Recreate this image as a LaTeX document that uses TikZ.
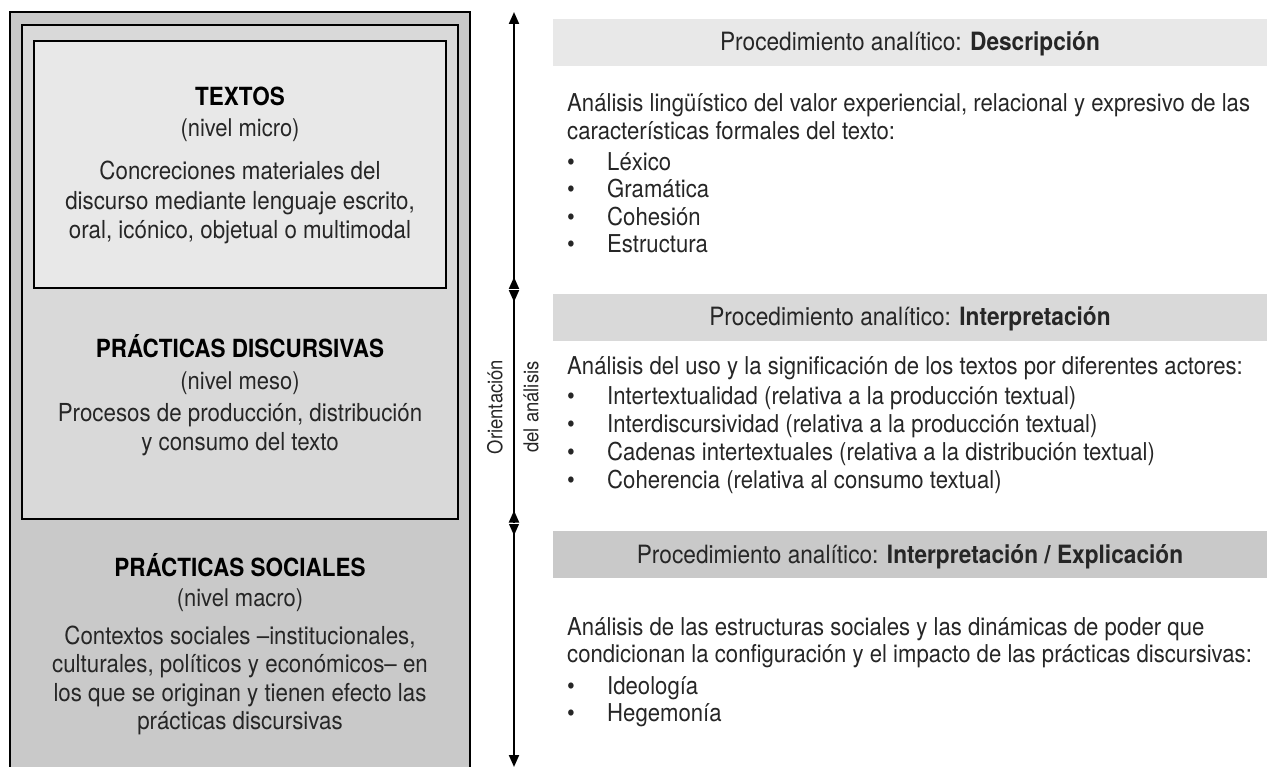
\documentclass[tikz,border=0pt]{standalone}
\usepackage{fontspec}
\setmainfont{TeX Gyre Heros}
\newfontfamily\condf[FakeStretch=0.9]{TeX Gyre Heros}
\usetikzlibrary{arrows.meta}
\definecolor{gA}{HTML}{E8E8E8}
\definecolor{gB}{HTML}{D9D9D9}
\definecolor{gC}{HTML}{C9C9C9}
\definecolor{txt}{HTML}{262626}
\tikzset{
  boxline/.style={draw=black, line width=1.5pt},
  lhead/.style={font=\condf\fontsize{25}{28}\selectfont\bfseries, anchor=base, text=black, inner sep=0pt},
  lsub/.style={font=\condf\fontsize{24.4}{28}\selectfont, anchor=base, text=txt, inner sep=0pt},
  lbody/.style={font=\condf\fontsize{24.8}{28}\selectfont, anchor=base, text=txt, inner sep=0pt},
  rtext/.style={font=\condf\fontsize{24.6}{28}\selectfont, anchor=base west, text=txt, inner sep=0pt},
  bul/.style={font=\condf\fontsize{24.6}{28}\selectfont, anchor=base west, text=txt, inner sep=0pt},
  bhead/.style={font=\condf\fontsize{25.2}{28}\selectfont, anchor=base, text=txt, inner sep=0pt},
  vlab/.style={font=\condf\fontsize{20.5}{24}\selectfont, rotate=90, text=txt, inner sep=0pt},
  axis/.style={line width=2pt, draw=black},
  tip/.style={-{Triangle[length=12pt,width=10pt]}, line width=2pt}
}
\begin{document}
\begin{tikzpicture}[x=1pt,y=-1pt]
\useasboundingbox (0,0) rectangle (1267,767);
\clip (0,0) rectangle (1267,767);
% left nested boxes
\path[boxline, fill=gC] (10,12) rectangle (470,790);
\path[boxline, fill=gB] (22,25) rectangle (458,519);
\path[boxline, fill=gA] (34,41) rectangle (446,288);
% TEXTOS
\node[lhead] (t1) at (240,106) {TEXTOS};
\node[lsub] (t2) at (240,137) {(nivel micro)};
\node[lbody] (t3) at (240,180) {Concreciones materiales del};
\node[lbody] (t4) at (240,209.5) {discurso mediante lenguaje escrito,};
\node[lbody] (t5) at (240,239) {oral, icónico, objetual o multimodal};
% PRACTICAS DISCURSIVAS
\node[lhead] (d1) at (240,358) {PRÁCTICAS DISCURSIVAS};
\node[lsub] (d2) at (240,390) {(nivel meso)};
\node[lbody] (d3) at (240,421) {Procesos de producción, distribución};
\node[lbody] (d4) at (240,450) {y consumo del texto};
% PRACTICAS SOCIALES
\node[lhead] (s1) at (240,576) {PRÁCTICAS SOCIALES};
\node[lsub] (s2) at (240,606) {(nivel macro)};
\node[lbody] (s3) at (240,644) {Contextos sociales –institucionales,};
\node[lbody] (s4) at (240,672.5) {culturales, políticos y económicos– en};
\node[lbody] (s5) at (240,701) {los que se originan y tienen efecto las};
\node[lbody] (s6) at (240,729.5) {prácticas discursivas};
% vertical axis
\coordinate (atop) at (514,12);
\coordinate (abot) at (514,767);
\coordinate (j1) at (514,289.5);
\coordinate (j2) at (514,523);
\draw[axis, {Triangle[length=12pt,width=10pt]}-{Triangle[length=12pt,width=10pt]}] (atop) -- (abot);
\draw[tip] (j1) -- ++(0,-12.5);
\draw[tip] (j1) -- ++(0,12.5);
\draw[tip] (j2) -- ++(0,-12.5);
\draw[tip] (j2) -- ++(0,12.5);
\draw[white, line width=1pt] (508,289.5) -- (520,289.5);
\draw[white, line width=1pt] (508,523) -- (520,523);
\node[vlab] (v1) at (495,407) {Orientación};
\node[vlab] (v2) at (531,407) {del análisis};
% bars
\path[fill=gA] (553,19) rectangle (1267,66);
\path[fill=gB] (553,294) rectangle (1267,341);
\path[fill=gC] (553,531) rectangle (1267,578);
\node[bhead] (h1) at (910,51) {Procedimiento analítico: \textbf{Descripción}};
\node[bhead] (h2) at (910,326) {Procedimiento analítico: \textbf{Interpretación}};
\node[bhead] (h3) at (910,563) {Procedimiento analítico: \textbf{Interpretación / Explicación}};
% section 1
\node[rtext] (a1) at (567,112) {Análisis lingüístico del valor experiencial, relacional y expresivo de las};
\node[rtext] (a2) at (567,140) {características formales del texto:};
\foreach \y/\t [count=\i] in {171/Léxico,198/Gramática,226/Cohesión,253/Estructura}{
  \node[bul] (ab\i) at (567,\y) {•};
  \node[rtext] (ai\i) at (607,\y) {\t};
}
% section 2
\node[rtext] (b1) at (567,375) {Análisis del uso y la significación de los textos por diferentes actores:};
\foreach \y/\t [count=\i] in {404/Intertextualidad (relativa a la producción textual),432/Interdiscursividad (relativa a la producción textual),460/Cadenas intertextuales (relativa a la distribución textual),488/Coherencia (relativa al consumo textual)}{
  \node[bul] (bb\i) at (567,\y) {•};
  \node[rtext] (bi\i) at (607,\y) {\t};
}
% section 3
\node[rtext] (c1) at (567,635) {Análisis de las estructuras sociales y las dinámicas de poder que};
\node[rtext] (c2) at (567,662) {condicionan la configuración y el impacto de las prácticas discursivas:};
\foreach \y/\t [count=\i] in {694/Ideología,721/Hegemonía}{
  \node[bul] (cb\i) at (567,\y) {•};
  \node[rtext] (ci\i) at (607,\y) {\t};
}
\end{tikzpicture}
\end{document}
